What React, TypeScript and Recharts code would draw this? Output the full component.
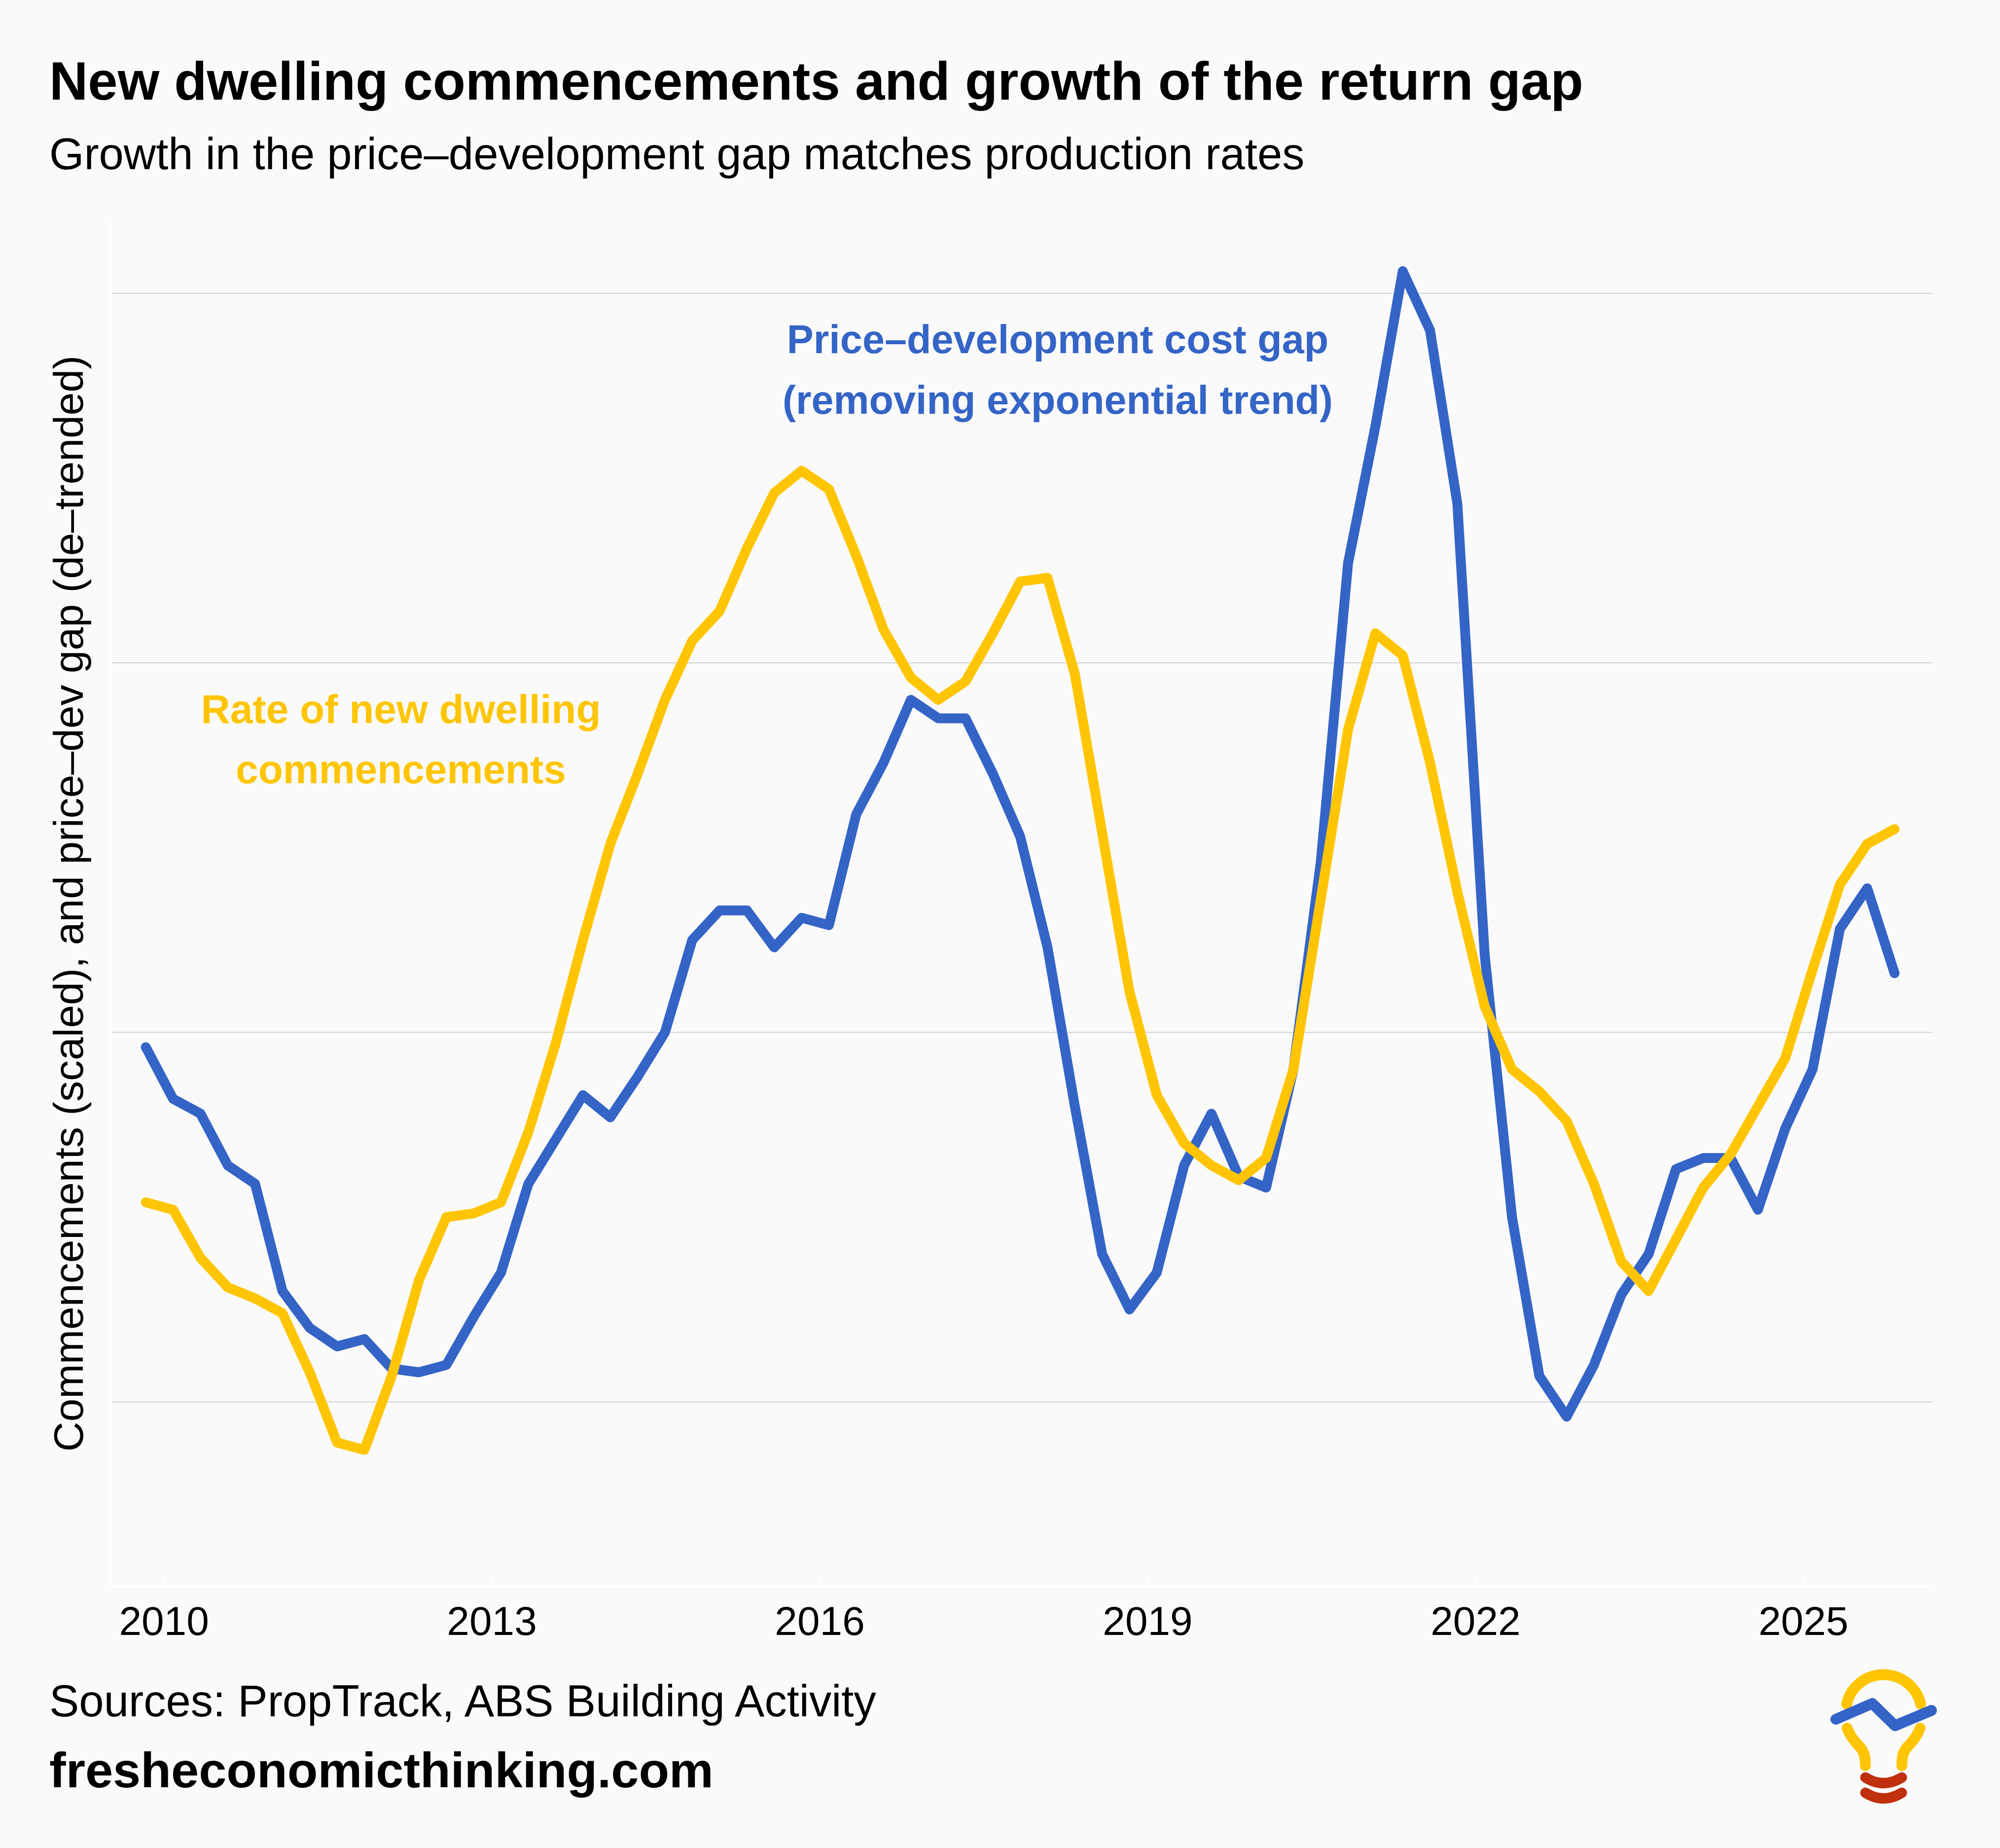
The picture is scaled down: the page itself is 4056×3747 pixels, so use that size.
import React from 'react';
import { LineChart, Line, XAxis, YAxis, ReferenceLine } from 'recharts';

// quarterly observations (mid-quarter month)
const quarters = [
  '2009-11',
  '2010-02', '2010-05', '2010-08', '2010-11',
  '2011-02', '2011-05', '2011-08', '2011-11',
  '2012-02', '2012-05', '2012-08', '2012-11',
  '2013-02', '2013-05', '2013-08', '2013-11',
  '2014-02', '2014-05', '2014-08', '2014-11',
  '2015-02', '2015-05', '2015-08', '2015-11',
  '2016-02', '2016-05', '2016-08', '2016-11',
  '2017-02', '2017-05', '2017-08', '2017-11',
  '2018-02', '2018-05', '2018-08', '2018-11',
  '2019-02', '2019-05', '2019-08', '2019-11',
  '2020-02', '2020-05', '2020-08', '2020-11',
  '2021-02', '2021-05', '2021-08', '2021-11',
  '2022-02', '2022-05', '2022-08', '2022-11',
  '2023-02', '2023-05', '2023-08', '2023-11',
  '2024-02', '2024-05', '2024-08', '2024-11',
  '2025-02', '2025-05', '2025-08', '2025-11',
];

// price-development cost gap, de-trended
const returnGap = [
  -0.04,
  -0.18, -0.22, -0.36, -0.41,
  -0.70, -0.80, -0.85, -0.83,
  -0.91, -0.92, -0.90, -0.77,
  -0.65, -0.41, -0.29, -0.17,
  -0.23, -0.12, 0.00, 0.25,
  0.33, 0.33, 0.23, 0.31,
  0.29, 0.59, 0.73, 0.90,
  0.85, 0.85, 0.70, 0.53,
  0.23, -0.20, -0.60, -0.75,
  -0.65, -0.36, -0.22, -0.39,
  -0.42, -0.10, 0.46, 1.27,
  1.64, 2.06, 1.90, 1.43,
  0.21, -0.50, -0.93, -1.04,
  -0.90, -0.71, -0.60, -0.37,
  -0.34, -0.34, -0.48, -0.26,
  -0.10, 0.28, 0.39, 0.16,
];

// rate of new dwelling commencements, scaled
const commencements = [
  -0.46,
  -0.48, -0.61, -0.69, -0.72,
  -0.76, -0.92, -1.11, -1.13,
  -0.93, -0.67, -0.50, -0.49,
  -0.46, -0.27, -0.03, 0.25,
  0.51, 0.70, 0.90, 1.06,
  1.14, 1.31, 1.46, 1.52,
  1.47, 1.29, 1.09, 0.96,
  0.90, 0.95, 1.08, 1.22,
  1.23, 0.97, 0.54, 0.11,
  -0.17, -0.30, -0.36, -0.40,
  -0.34, -0.10, 0.36, 0.82,
  1.08, 1.02, 0.73, 0.38,
  0.07, -0.10, -0.16, -0.24,
  -0.41, -0.62, -0.70, -0.56,
  -0.42, -0.33, -0.20, -0.07,
  0.17, 0.40, 0.51, 0.55,
];

const yearTicks = [2010, 2013, 2016, 2019, 2022, 2025];
const gridValues = [-1, 0, 1, 2];

const toYear = (q: string) => {
  const [y, m] = q.split('-').map(Number);
  return y + (m - 1) / 12;
};

const data = quarters.map((q, i) => ({
  t: toYear(q),
  gap: returnGap[i],
  starts: commencements[i],
}));

const FONT = '"Liberation Sans", Arial, Helvetica, sans-serif';
const BLUE = '#3464c6';
const YELLOW = '#ffc502';
const RED = '#c0300d';

const YearTick = ({ x, y, payload }: any) => (
  <g>
    <line x1={x} x2={x} y1={y - 22} y2={y} stroke="#ffffff" strokeWidth={4} />
    <text x={x} y={y + 98} textAnchor="middle" fontSize={82} fill="#000" fontFamily={FONT}>
      {payload.value}
    </text>
  </g>
);

const Logo = () => (
  <g fill="none" strokeLinecap="round" strokeLinejoin="round" strokeWidth={22}>
    <path d="M3745 3455 A77 77 0 0 1 3895 3455" stroke={YELLOW} />
    <path d="M3746 3504 C3752 3520 3760 3530 3770 3540 C3782 3552 3783 3565 3783 3580" stroke={YELLOW} />
    <path d="M3894 3504 C3888 3520 3880 3530 3870 3540 C3858 3552 3857 3565 3857 3580" stroke={YELLOW} />
    <polyline points="3723,3486 3797,3454 3843,3499 3917,3468" stroke={BLUE} />
    <path d="M3783 3604 Q3820 3627 3857 3604" stroke={RED} strokeWidth={21} />
    <path d="M3783 3635 Q3820 3658 3857 3635" stroke={RED} strokeWidth={21} />
  </g>
);

export default function App() {
  return (
    <div
      style={{
        position: 'absolute',
        left: 0,
        top: 0,
        width: 4056,
        height: 3747,
        background: '#fafafa',
        overflow: 'hidden',
        fontFamily: FONT,
      }}
    >
      <LineChart
        width={4056}
        height={3747}
        data={data}
        margin={{ top: 445, right: 137, bottom: 430, left: 223 }}
      >
        {gridValues.map((v) => (
          <ReferenceLine key={v} y={v} stroke="#d2d2d2" strokeWidth={2} />
        ))}
        <XAxis
          dataKey="t"
          type="number"
          domain={[2009.51, 2026.18]}
          allowDataOverflow
          ticks={yearTicks}
          interval={0}
          height={100}
          tickSize={0}
          tickMargin={0}
          tickLine={false}
          axisLine={{ stroke: '#ffffff', strokeWidth: 4 }}
          tick={<YearTick />}
        />
        <YAxis
          type="number"
          domain={[-1.5, 2.2]}
          allowDataOverflow
          ticks={gridValues}
          width={1}
          tick={false}
          tickLine={false}
          axisLine={{ stroke: '#ffffff', strokeWidth: 4 }}
        />
        <Line
          type="linear"
          dataKey="gap"
          stroke={BLUE}
          strokeWidth={20}
          strokeLinejoin="round"
          strokeLinecap="round"
          dot={false}
          activeDot={false}
          isAnimationActive={false}
        />
        <Line
          type="linear"
          dataKey="starts"
          stroke={YELLOW}
          strokeWidth={20}
          strokeLinejoin="round"
          strokeLinecap="round"
          dot={false}
          activeDot={false}
          isAnimationActive={false}
        />
      </LineChart>

      <svg
        width={4056}
        height={3747}
        style={{ position: 'absolute', left: 0, top: 0, pointerEvents: 'none' }}
        fontFamily={FONT}
      >
        <text x={100} y={202} fontSize={108.5} fontWeight="bold" fill="#000">
          New dwelling commencements and growth of the return gap
        </text>
        <text x={100} y={343} fontSize={90.5} fill="#000">
          Growth in the price–development gap matches production rates
        </text>

        <text transform="translate(168,1832) rotate(-90)" textAnchor="middle" fontSize={84} fill="#000">
          Commencements (scaled), and price–dev gap (de–trended)
        </text>

        <text x={2145} y={716} textAnchor="middle" fontSize={81} fontWeight="bold" fill={BLUE}>
          Price–development cost gap
        </text>
        <text x={2145} y={839} textAnchor="middle" fontSize={81} fontWeight="bold" fill={BLUE}>
          (removing exponential trend)
        </text>

        <text x={813} y={1466} textAnchor="middle" fontSize={82} fontWeight="bold" fill={YELLOW}>
          Rate of new dwelling
        </text>
        <text x={813} y={1588} textAnchor="middle" fontSize={82} fontWeight="bold" fill={YELLOW}>
          commencements
        </text>

        <text x={100} y={3480} fontSize={90.5} fill="#000">
          Sources: PropTrack, ABS Building Activity
        </text>
        <text x={100} y={3624} fontSize={101} fontWeight="bold" fill="#000">
          fresheconomicthinking.com
        </text>

        <Logo />
      </svg>
    </div>
  );
}
